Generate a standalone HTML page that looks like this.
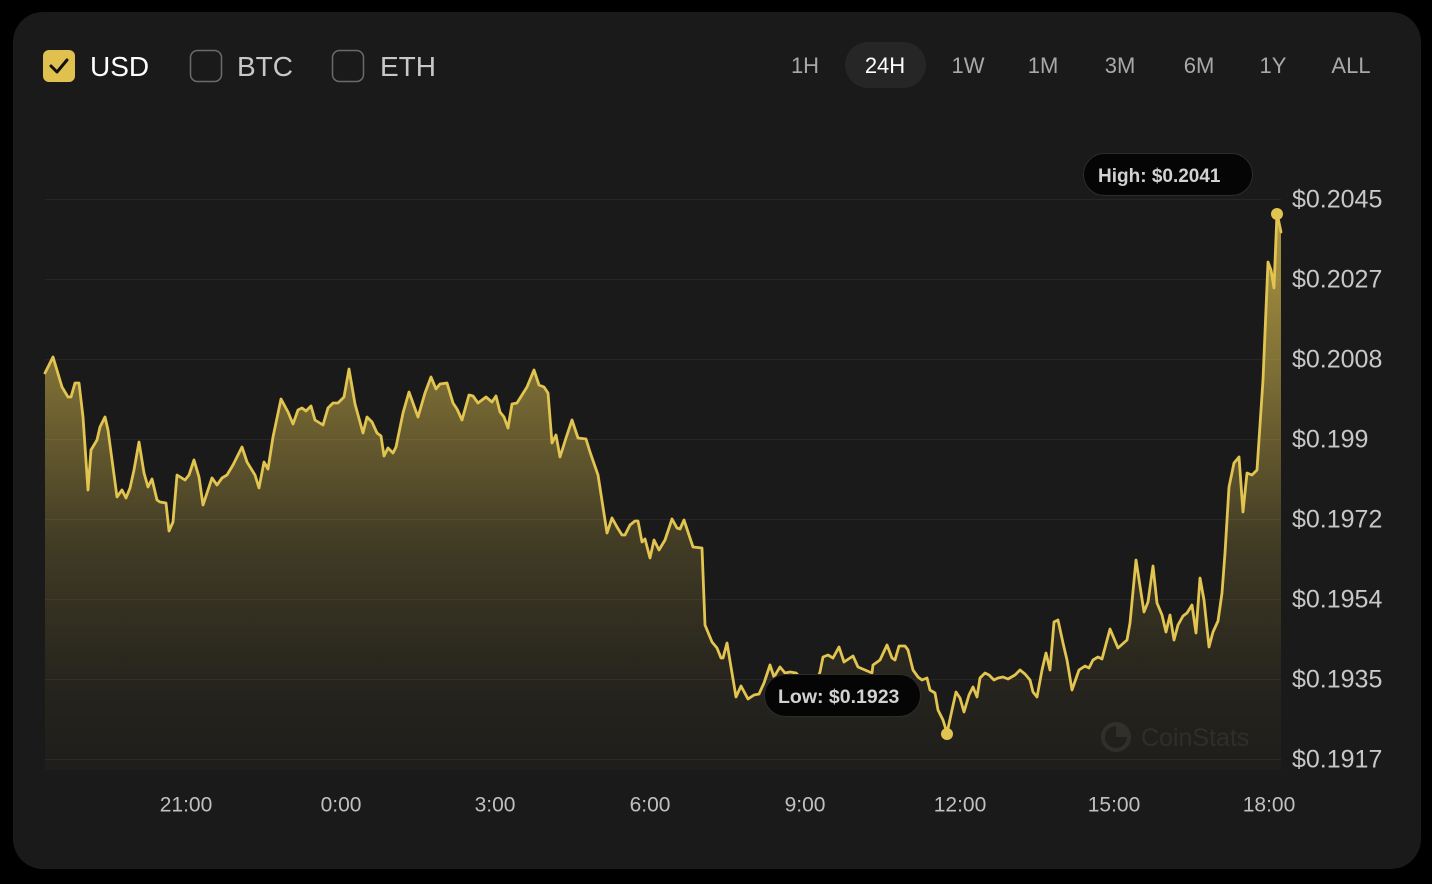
<!DOCTYPE html>
<html><head><meta charset="utf-8"><style>
html,body{margin:0;padding:0;background:#000;width:1432px;height:884px;overflow:hidden}
svg{display:block}
text{font-family:"Liberation Sans",sans-serif}
</style></head><body>
<svg width="1432" height="884" viewBox="0 0 1432 884" xmlns="http://www.w3.org/2000/svg">
<defs>
<linearGradient id="g" x1="0" y1="213" x2="0" y2="770" gradientUnits="userSpaceOnUse">
<stop offset="0" stop-color="#e2c450" stop-opacity="0.74"/>
<stop offset="0.29" stop-color="#e2c450" stop-opacity="0.49"/>
<stop offset="0.59" stop-color="#e2c450" stop-opacity="0.2"/>
<stop offset="0.84" stop-color="#e2c450" stop-opacity="0.06"/>
<stop offset="1" stop-color="#e2c450" stop-opacity="0.02"/>
</linearGradient>
</defs>
<rect x="0" y="0" width="1432" height="884" fill="#000"/>
<rect x="13" y="12" width="1408" height="857" rx="30" fill="#1a1a1a"/>

<!-- header checkboxes -->
<rect x="43" y="50" width="32" height="32" rx="6" fill="#e0c04e"/>
<path d="M51 66 L57 72 L67 60" fill="none" stroke="#111" stroke-width="3" stroke-linecap="round" stroke-linejoin="round"/>
<text x="90" y="76" font-size="28" fill="#ffffff">USD</text>
<rect x="190.5" y="50.5" width="31" height="31" rx="7" fill="none" stroke="#6a6a6a" stroke-width="1.5"/>
<text x="237" y="76" font-size="28" fill="#c8c8c8">BTC</text>
<rect x="332.5" y="50.5" width="31" height="31" rx="7" fill="none" stroke="#6a6a6a" stroke-width="1.5"/>
<text x="380" y="76" font-size="28" fill="#c8c8c8">ETH</text>

<!-- tabs -->
<rect x="845" y="42" width="81" height="46" rx="23" fill="#262626"/>
<g font-size="22" fill="#a8a8a8" text-anchor="middle">
<text x="805" y="73">1H</text>
<text x="885" y="73" fill="#ffffff">24H</text>
<text x="968" y="73">1W</text>
<text x="1043" y="73">1M</text>
<text x="1120" y="73">3M</text>
<text x="1199" y="73">6M</text>
<text x="1273" y="73">1Y</text>
<text x="1351" y="73">ALL</text>
</g>

<!-- gridlines -->
<g stroke="#262626" stroke-width="1">
<line x1="45" y1="199.5" x2="1281" y2="199.5"/>
<line x1="45" y1="279.5" x2="1281" y2="279.5"/>
<line x1="45" y1="359.5" x2="1281" y2="359.5"/>
<line x1="45" y1="439.5" x2="1281" y2="439.5"/>
<line x1="45" y1="519.5" x2="1281" y2="519.5"/>
<line x1="45" y1="599.5" x2="1281" y2="599.5"/>
<line x1="45" y1="679.5" x2="1281" y2="679.5"/>
<line x1="45" y1="759.5" x2="1281" y2="759.5"/>
</g>

<!-- watermark -->
<circle cx="1116" cy="737" r="13" fill="none" stroke="#2a2a2a" stroke-width="4"/>
<path d="M1116 737 L1116 724 A13 13 0 0 1 1129 737 Z" fill="#2a2a2a"/>
<text x="1141" y="746" font-size="25" fill="#292929">CoinStats</text>

<!-- area -->
<path id="area" fill="url(#g)" d="M45,373 L53,357 L62,387 L68,397 L71,397 L75,383 L79,383 L83,417 L88,490 L91,450 L97,440 L100,427 L105,417 L108,430 L117,497 L122,490 L126,498 L130,488 L134,470 L139,442 L144,473 L148,487 L152,479 L157,500 L160,502 L166,503 L169,531 L173,522 L177,475 L185,480 L189,475 L194,460 L199,477 L203,505 L212,478 L217,485 L222,478 L227,475 L233,465 L242,447 L247,462 L255,475 L259,488 L264,462 L268,469 L273,437 L281,399 L288,412 L293,424 L298,410 L302,408 L306,411 L311,406 L315,420 L323,425 L328,408 L333,403 L338,403 L344,397 L349,369 L355,404 L363,433 L367,417 L372,422 L377,433 L381,436 L384,456 L388,448 L393,453 L396,447 L403,413 L409,392 L418,417 L425,393 L431,377 L436,389 L440,384 L447,383 L453,403 L457,409 L462,420 L469,395 L473,396 L478,403 L486,397 L492,402 L496,396 L500,412 L504,417 L508,428 L512,404 L517,403 L527,387 L534,370 L539,385 L544,387 L548,393 L552,443 L556,435 L560,457 L566,438 L572,420 L578,438 L586,439 L590,452 L598,475 L607,533 L612,518 L617,527 L622,535 L625,535 L630,525 L635,521 L638,521 L642,542 L645,539 L650,558 L654,540 L659,550 L665,540 L672,519 L677,528 L680,529 L684,520 L693,547 L702,548 L705,625 L712,642 L717,648 L721,658 L723,658 L727,643 L736,697 L741,686 L748,699 L754,695 L759,694 L764,683 L770,665 L774,677 L780,667 L785,673 L790,672 L796,673 L805,682 L815,685 L820,672 L823,657 L828,655 L833,658 L839,647 L844,662 L847,660 L853,656 L858,667 L865,670 L872,673 L873,665 L880,660 L887,645 L892,658 L895,660 L899,646 L905,646 L908,650 L913,670 L918,677 L922,680 L927,678 L930,690 L935,693 L938,710 L943,720 L947,733 L952,710 L956,692 L960,698 L964,712 L969,695 L973,687 L977,697 L980,678 L985,673 L989,675 L994,680 L998,678 L1003,677 L1008,679 L1015,675 L1020,670 L1025,674 L1030,680 L1033,692 L1037,697 L1042,670 L1046,653 L1050,670 L1054,622 L1058,620 L1063,643 L1067,660 L1072,690 L1079,670 L1085,666 L1089,668 L1093,660 L1098,657 L1102,659 L1110,629 L1118,648 L1127,640 L1130,623 L1136,560 L1144,612 L1148,602 L1153,566 L1157,603 L1162,615 L1166,632 L1170,615 L1174,640 L1178,625 L1183,616 L1187,613 L1192,605 L1196,633 L1200,578 L1204,600 L1209,647 L1213,632 L1218,621 L1222,593 L1225,553 L1229,487 L1234,463 L1239,457 L1243,512 L1247,473 L1252,475 L1257,470 L1259,440 L1263,380 L1268,262 L1271,270 L1274,288 L1277,213 L1281,232 L1281,770 L45,770 Z"/>
<polyline fill="none" stroke="#e2c450" stroke-width="2.8" stroke-linejoin="round" stroke-linecap="round" points="45,373 53,357 62,387 68,397 71,397 75,383 79,383 83,417 88,490 91,450 97,440 100,427 105,417 108,430 117,497 122,490 126,498 130,488 134,470 139,442 144,473 148,487 152,479 157,500 160,502 166,503 169,531 173,522 177,475 185,480 189,475 194,460 199,477 203,505 212,478 217,485 222,478 227,475 233,465 242,447 247,462 255,475 259,488 264,462 268,469 273,437 281,399 288,412 293,424 298,410 302,408 306,411 311,406 315,420 323,425 328,408 333,403 338,403 344,397 349,369 355,404 363,433 367,417 372,422 377,433 381,436 384,456 388,448 393,453 396,447 403,413 409,392 418,417 425,393 431,377 436,389 440,384 447,383 453,403 457,409 462,420 469,395 473,396 478,403 486,397 492,402 496,396 500,412 504,417 508,428 512,404 517,403 527,387 534,370 539,385 544,387 548,393 552,443 556,435 560,457 566,438 572,420 578,438 586,439 590,452 598,475 607,533 612,518 617,527 622,535 625,535 630,525 635,521 638,521 642,542 645,539 650,558 654,540 659,550 665,540 672,519 677,528 680,529 684,520 693,547 702,548 705,625 712,642 717,648 721,658 723,658 727,643 736,697 741,686 748,699 754,695 759,694 764,683 770,665 774,677 780,667 785,673 790,672 796,673 805,682 815,685 820,672 823,657 828,655 833,658 839,647 844,662 847,660 853,656 858,667 865,670 872,673 873,665 880,660 887,645 892,658 895,660 899,646 905,646 908,650 913,670 918,677 922,680 927,678 930,690 935,693 938,710 943,720 947,733 952,710 956,692 960,698 964,712 969,695 973,687 977,697 980,678 985,673 989,675 994,680 998,678 1003,677 1008,679 1015,675 1020,670 1025,674 1030,680 1033,692 1037,697 1042,670 1046,653 1050,670 1054,622 1058,620 1063,643 1067,660 1072,690 1079,670 1085,666 1089,668 1093,660 1098,657 1102,659 1110,629 1118,648 1127,640 1130,623 1136,560 1144,612 1148,602 1153,566 1157,603 1162,615 1166,632 1170,615 1174,640 1178,625 1183,616 1187,613 1192,605 1196,633 1200,578 1204,600 1209,647 1213,632 1218,621 1222,593 1225,553 1229,487 1234,463 1239,457 1243,512 1247,473 1252,475 1257,470 1259,440 1263,380 1268,262 1271,270 1274,288 1277,213 1281,232"/>

<circle cx="1277" cy="214" r="6" fill="#e2c450"/>
<circle cx="947" cy="734" r="6" fill="#e2c450"/>

<!-- tooltips -->
<rect x="1083.5" y="153.5" width="169" height="42" rx="21" fill="#050505" stroke="#2c2c2c" stroke-width="1"/>
<text x="1098" y="182" font-size="19" font-weight="bold" fill="#d2d2d2">High: $0.2041</text>
<rect x="764.5" y="674.5" width="156" height="42" rx="21" fill="#050505" stroke="#2c2c2c" stroke-width="1"/>
<text x="778" y="703" font-size="19.5" font-weight="bold" fill="#d2d2d2">Low: $0.1923</text>

<!-- y labels -->
<g font-size="25" fill="#c8c8c8">
<text x="1292" y="207.5">$0.2045</text>
<text x="1292" y="287.5">$0.2027</text>
<text x="1292" y="367.5">$0.2008</text>
<text x="1292" y="447.5">$0.199</text>
<text x="1292" y="527.5">$0.1972</text>
<text x="1292" y="607.5">$0.1954</text>
<text x="1292" y="687.5">$0.1935</text>
<text x="1292" y="767.5">$0.1917</text>
</g>

<!-- x labels -->
<g font-size="21" fill="#c0c0c0" text-anchor="middle">
<text x="186" y="811.5">21:00</text>
<text x="341" y="811.5">0:00</text>
<text x="495" y="811.5">3:00</text>
<text x="650" y="811.5">6:00</text>
<text x="805" y="811.5">9:00</text>
<text x="960" y="811.5">12:00</text>
<text x="1114" y="811.5">15:00</text>
<text x="1269" y="811.5">18:00</text>
</g>
</svg>
</body></html>
